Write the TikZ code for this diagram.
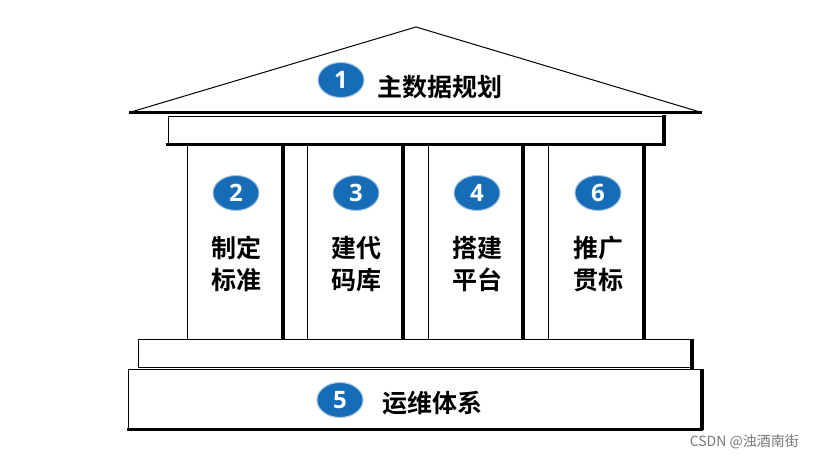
\documentclass[tikz,border=0pt]{standalone}
\usepackage{fontspec}
\newfontfamily\cjk{Noto Sans CJK SC}[BoldFont={Noto Sans CJK SC Bold}]
\newfontfamily\numfont{Open Sans}
\definecolor{numblue}{RGB}{22,108,182}
\definecolor{wmgray}{RGB}{120,120,120}
\tikzset{
  thin edge/.style={line width=1pt,black},
  thick edge/.style={line width=3.2pt,black},
  badge/.style={ellipse,fill=numblue,draw=numblue!40,line width=1pt,minimum width=46pt,minimum height=35pt,inner sep=0pt,text=white,font=\numfont\bfseries\fontsize{24}{24}\selectfont},
  label/.style={font=\cjk\bfseries\fontsize{25}{32}\selectfont,align=center,inner sep=0pt},
}
\usetikzlibrary{shapes.geometric}
\begin{document}
\begin{tikzpicture}[x=1pt,y=-1pt]
\useasboundingbox (0,0) rectangle (815,462);
\fill[white] (0,0) rectangle (815,462);
% roof
\draw[thin edge,line join=miter] (131,112) -- (416,27) -- (700,112);
\draw[thick edge] (129,112.5) -- (702,112.5);
% beam
\draw[thin edge] (168,143) -- (168,117) -- (664,117);
\draw[thick edge] (664,115) -- (664,144);
\draw[thick edge] (166,144.5) -- (666,144.5);
% pillars
\foreach \l/\r in {187/283,307/403,428/523,548/644}{
  \draw[thin edge] (\l,146) -- (\l,340);
  \draw[thick edge] (\r,146) -- (\r,340);
}
% base step 1
\draw[thin edge] (138,368) -- (138,340) -- (692,340);
\draw[thick edge] (692,339) -- (692,369);
\draw[thin edge] (138,368) -- (692,368);
% base step 2
\draw[thin edge] (128,428) -- (128,370) -- (702,370);
\draw[thick edge] (702,369) -- (702,430);
\draw[thick edge] (127,429.5) -- (703,429.5);
% badges and labels
\node[badge] (b1) at (341,80) {1};
\node[label,anchor=west] (t1) at (377,87) {主数据规划};
\node[badge] (b2) at (236,193) {2};
\node[label] (t2) at (236,264) {制定\\标准};
\node[badge] (b3) at (356,193) {3};
\node[label] (t3) at (356,264) {建代\\码库};
\node[badge] (b4) at (477,193) {4};
\node[label] (t4) at (477,264) {搭建\\平台};
\node[badge] (b6) at (598,193) {6};
\node[label] (t6) at (598,264) {推广\\贯标};
\node[badge] (b5) at (340,400) {5};
\node[label,anchor=west] (t5) at (382,403) {运维体系};
\node[anchor=east,inner sep=0pt,text=wmgray,font=\cjk\fontsize{14}{14}\selectfont] (wm) at (799,442) {CSDN @浊酒南街};
\end{tikzpicture}
\end{document}
